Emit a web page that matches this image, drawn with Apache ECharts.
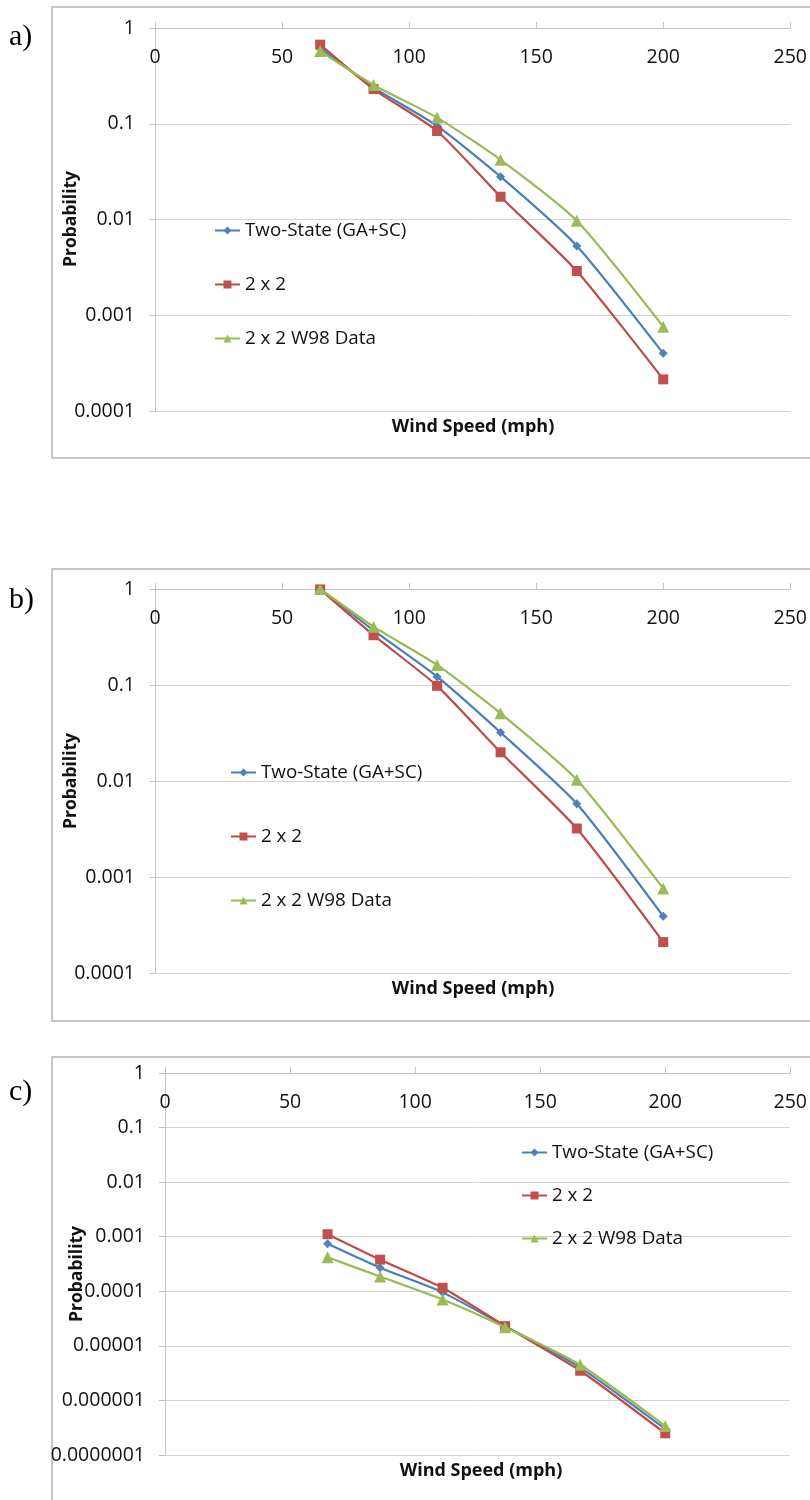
<!DOCTYPE html>
<html><head><meta charset="utf-8">
<script src="https://cdn.jsdelivr.net/npm/echarts@6/dist/echarts.min.js"></script>
<style>html,body{margin:0;padding:0;background:#fff}#c{width:810px;height:1500px}</style>
</head><body><div id="c"></div>
<script>
const windSpeed = [65, 86, 111, 136, 166, 200];
const seriesNames = ['Two-State (GA+SC)', '2 x 2', '2 x 2 W98 Data'];
const xTickLabels = ['0', '50', '100', '150', '200', '250'];
const yTickLabels = ['1', '0.1', '0.01', '0.001', '0.0001', '0.00001', '0.000001', '0.0000001'];
const panelLabels = ['a)', 'b)', 'c)'];

const aTwoState = [0.62, 0.24, 0.095, 0.028, 0.0053, 0.0004];
const aTwoByTwo = [0.67, 0.23, 0.084, 0.0173, 0.0029, 0.000214];
const aW98      = [0.575, 0.254, 0.116, 0.042, 0.0097, 0.00076];

const bTwoState = [1.0, 0.37, 0.122, 0.032, 0.0058, 0.00039];
const bTwoByTwo = [0.99, 0.33, 0.098, 0.0199, 0.0032, 0.00021];
const bW98      = [1.0, 0.405, 0.162, 0.0507, 0.0103, 0.00076];

const cTwoState = [0.00074, 0.00027, 0.0000955, 0.000023, 0.000004, 0.0000003];
const cTwoByTwo = [0.00111, 0.00038, 0.000116, 0.000023, 0.0000035, 0.00000025];
const cW98      = [0.00042, 0.000186, 0.000071, 0.000022, 0.0000045, 0.00000034];

const panels = [
  { data: [aTwoState, aTwoByTwo, aW98], yMin: 0.0001, yMax: 1,
    grid: { left: 155, top: 28, width: 637, height: 383 }, yName: [71, 219],
    legend: { left: 214, top: 221, itemGap: 35 }, xName: [473, 427], frame: [52, 7, 770, 451], label: [9, 52] },
  { data: [bTwoState, bTwoByTwo, bW98], yMin: 0.0001, yMax: 1,
    grid: { left: 155, top: 589, width: 637, height: 384 }, yName: [71, 781],
    legend: { left: 230, top: 763, itemGap: 45 }, xName: [473, 989], frame: [52, 569, 770, 452], label: [9, 615] },
  { data: [cTwoState, cTwoByTwo, cW98], yMin: 0.0000001, yMax: 1,
    grid: { left: 165, top: 1073, width: 630, height: 382 }, yName: [77, 1274],
    legend: { left: 521, top: 1143, itemGap: 24 }, xName: [481, 1471], frame: [52, 1057, 770, 600], label: [9, 1107] }
];

const lineColors = ['#4A7EBB', '#BE4B48', '#98B954'];
const markerColors = ['#4F81BD', '#C0504D', '#9BBB59'];
const symbols = ['diamond', 'rect', 'triangle'];
const symbolSizes = [9, 10, 12];
const FONT = 'Open Sans';
const TXT = '#111';

const grids = [], xAxes = [], yAxes = [], series = [], legends = [], graphics = [];
panels.forEach((p, i) => {
  grids.push(Object.assign({ containLabel: false }, p.grid));
  xAxes.push({
    gridIndex: i, type: 'value', min: 0, max: 250, interval: 50, position: 'top',
    axisLine: { show: true, onZero: false, lineStyle: { color: '#c4c4c4', width: 1 } },
    axisTick: { show: true, inside: false, length: 6, lineStyle: { color: '#c4c4c4' } },
    axisLabel: { inside: true, margin: 19, fontSize: 19.5, fontFamily: FONT, color: TXT,
      formatter: v => xTickLabels[Math.round(v / 50)] },
    splitLine: { show: false }
  });
  yAxes.push({
    gridIndex: i, type: 'log', logBase: 10, min: p.yMin, max: p.yMax,
    axisLine: { show: true, lineStyle: { color: '#c4c4c4', width: 1 } },
    axisTick: { show: true, inside: false, length: 6, lineStyle: { color: '#c4c4c4' } },
    axisLabel: { margin: 20, fontSize: 19.5, fontFamily: FONT, color: TXT,
      formatter: v => yTickLabels[Math.round(-Math.log10(v))] },
    splitLine: { show: true, lineStyle: { color: '#d4d4d4', width: 1 } }
  });
  p.data.forEach((vals, k) => {
    series.push({
      type: 'line', name: seriesNames[k], xAxisIndex: i, yAxisIndex: i,
      data: windSpeed.map((x, j) => [x, vals[j]]),
      smooth: 0.2, symbol: symbols[k], symbolSize: symbolSizes[k],
      lineStyle: { color: lineColors[k], width: 2.2 },
      itemStyle: { color: markerColors[k] },
      z: 2 + k, animation: false
    });
  });
  legends.push({
    orient: 'vertical', left: p.legend.left, top: p.legend.top, itemGap: p.legend.itemGap,
    padding: 0, itemWidth: 25, itemHeight: 10, selectedMode: false,
    data: seriesNames, textStyle: { fontSize: 18.8, fontFamily: FONT, color: TXT }
  });
  graphics.push({
    type: 'rect', shape: { x: p.frame[0], y: p.frame[1], width: p.frame[2], height: p.frame[3] },
    style: { fill: 'none', stroke: '#b4b4b4', lineWidth: 1.5 }, z: -1
  });
  graphics.push({
    type: 'text', x: p.xName[0], y: p.xName[1],
    style: { text: 'Wind Speed (mph)', font: 'bold 18px "Open Sans"', fill: TXT,
      textAlign: 'center', textVerticalAlign: 'middle' }
  });
  graphics.push({
    type: 'text', x: p.yName[0], y: p.yName[1], rotation: Math.PI / 2,
    style: { text: 'Probability', font: 'bold 17.5px "Open Sans"', fill: TXT,
      textAlign: 'center', textVerticalAlign: 'middle' }
  });
  graphics.push({
    type: 'text', x: p.label[0], y: p.label[1],
    style: { text: panelLabels[i], font: '30px "Liberation Serif"', fill: '#000', textVerticalAlign: 'bottom' }
  });
});

const chart = echarts.init(document.getElementById('c'), null, { renderer: 'canvas' });
chart.setOption({
  animation: false, backgroundColor: '#fff',
  grid: grids, xAxis: xAxes, yAxis: yAxes, series: series, legend: legends, graphic: graphics
});
</script></body></html>
